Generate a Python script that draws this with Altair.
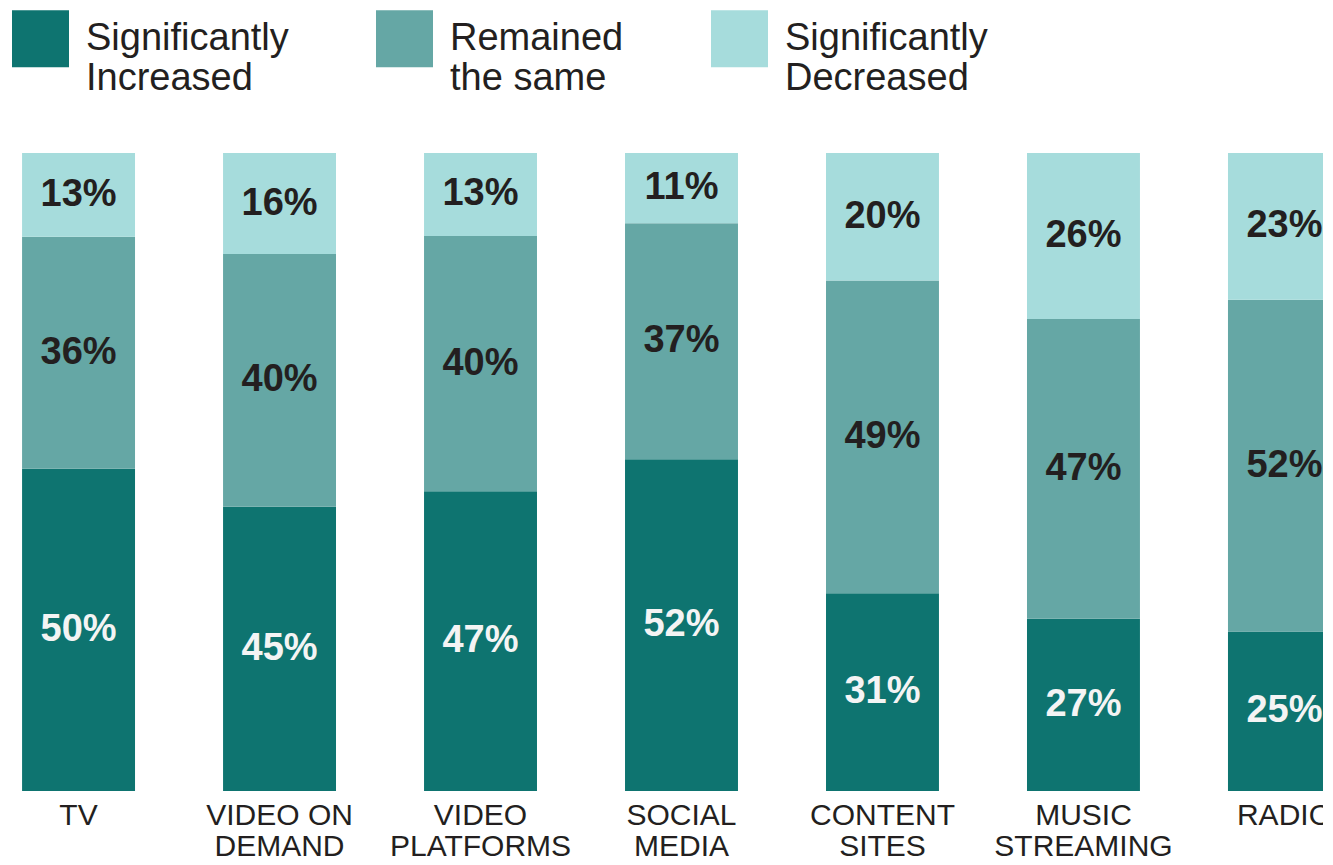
import altair as alt
import pandas as pd

categories = ["TV", "VIDEO ON|DEMAND", "VIDEO|PLATFORMS", "SOCIAL|MEDIA", "CONTENT|SITES", "MUSIC|STREAMING", "RADIO"]
increased = [50, 45, 47, 52, 31, 27, 25]
remained = [36, 40, 40, 37, 49, 47, 52]
decreased = [13, 16, 13, 11, 20, 26, 23]
statuses = ["Significantly|Increased", "Remained|the same", "Significantly|Decreased"]
colors = ["#0e7470", "#65a7a5", "#a6dcdc"]

rows = []
for i, c in enumerate(categories):
    for j, (s, v) in enumerate(zip(statuses, [increased[i], remained[i], decreased[i]])):
        rows.append({"category": c, "status": s, "order": j, "value": v})
df = pd.DataFrame(rows)

FONT = "Liberation Sans"

base = alt.Chart(df).transform_stack(
    stack="value",
    groupby=["category"],
    as_=["y0", "y1"],
    offset="normalize",
    sort=[alt.SortField("order", order="ascending")],
).transform_calculate(
    ymid="(datum.y0 + datum.y1) / 2",
    label="datum.value + '%'",
)

xscale = alt.Scale(paddingInner=0.438, paddingOuter=0.07, range=[0, 1347])

xenc = alt.X(
    "category:N",
    sort=categories,
    title=None,
    scale=xscale,
    axis=alt.Axis(
        labelExpr="split(datum.label, '|')",
        labelAngle=0,
        labelFontSize=30,
        labelFont=FONT,
        labelColor="#231f20",
        labelPadding=9,
        labelLineHeight=31,
        labelLimit=400,
        domain=False,
        ticks=False,
        grid=False,
    ),
)

yscale = alt.Scale(domain=[0, 1])

bars = base.mark_bar().encode(
    x=xenc,
    y=alt.Y("y0:Q", scale=yscale, axis=None),
    y2="y1:Q",
    color=alt.Color(
        "status:N",
        scale=alt.Scale(domain=statuses, range=colors),
        legend=alt.Legend(
            title=None,
            orient="none",
            legendX=4,
            legendY=-143,
            direction="horizontal",
            symbolType="square",
            symbolSize=3249,
            symbolStrokeWidth=0,
            symbolOpacity=1,
            labelExpr="split(datum.label, '|')",
            labelFontSize=38,
            labelFont=FONT,
            labelColor="#231f20",
            labelOffset=17,
            labelLimit=400,
            columnPadding=87,
            padding=0,
        ),
    ),
    order=alt.Order("order:Q"),
)

texts = base.mark_text(
    fontSize=38, fontWeight="bold", font=FONT, baseline="middle", align="center"
).encode(
    x=alt.X("category:N", sort=categories, scale=xscale),
    y=alt.Y("ymid:Q", scale=yscale),
    text="label:N",
    color=alt.condition("datum.order == 0", alt.value("#f4f4f4"), alt.value("#231f20")),
)

chart = alt.layer(bars, texts).properties(
    width=1315,
    height=638,
    background="white",
    autosize=alt.AutoSizeParams(type="none"),
    padding={"top": 145, "left": 0, "right": 0, "bottom": 66},
).configure_view(stroke=None)

chart.save("out.html", embed_options={"renderer": "svg", "actions": False})
